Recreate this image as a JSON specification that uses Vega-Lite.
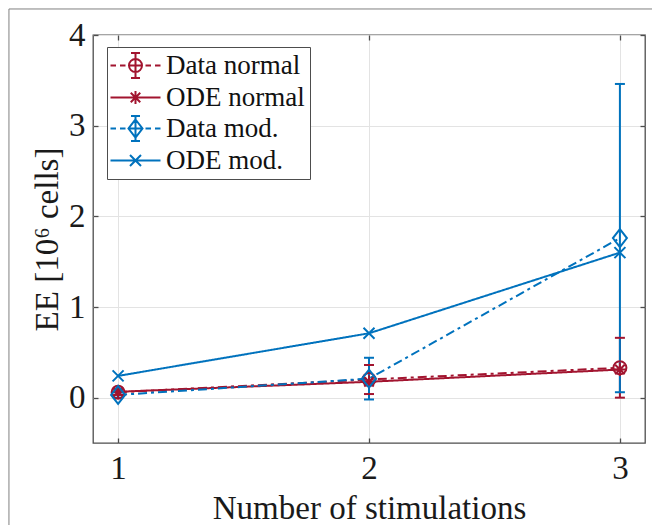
{
  "$schema": "https://vega.github.io/schema/vega-lite/v6.json",
  "width": 552,
  "height": 408,
  "autosize": {"type": "none"},
  "padding": {"left": 93, "top": 35, "right": 7, "bottom": 82},
  "background": "white",
  "config": {
    "font": "Liberation Serif",
    "view": {"stroke": "#4d4d4d", "strokeWidth": 1.3},
    "range": {"category": ["#A2142F", "#A2142F", "#0072BD", "#0072BD"]},
    "axis": {
      "domain": false,
      "tickSize": -5,
      "tickColor": "#4d4d4d",
      "tickWidth": 1.3,
      "gridColor": "#e3e3e3",
      "gridWidth": 1,
      "labelFont": "Liberation Serif",
      "labelFontSize": 33,
      "labelColor": "#1a1a1a",
      "titleFont": "Liberation Serif",
      "titleFontSize": 33,
      "titleFontWeight": "normal",
      "titleColor": "#1a1a1a"
    }
  },
  "datasets": {
    "series": [
      {"s": "Data normal", "x": 1, "y": 0.06, "lo": 0.03, "hi": 0.09},
      {"s": "Data normal", "x": 2, "y": 0.2, "lo": 0.04, "hi": 0.36},
      {"s": "Data normal", "x": 3, "y": 0.33, "lo": 0.0, "hi": 0.66},
      {"s": "ODE normal", "x": 1, "y": 0.065},
      {"s": "ODE normal", "x": 2, "y": 0.175},
      {"s": "ODE normal", "x": 3, "y": 0.31},
      {"s": "Data mod.", "x": 1, "y": 0.03, "lo": 0.0, "hi": 0.06},
      {"s": "Data mod.", "x": 2, "y": 0.21, "lo": -0.02, "hi": 0.44},
      {"s": "Data mod.", "x": 3, "y": 1.76, "lo": 0.06, "hi": 3.46},
      {"s": "ODE mod.", "x": 1, "y": 0.24},
      {"s": "ODE mod.", "x": 2, "y": 0.71},
      {"s": "ODE mod.", "x": 3, "y": 1.6}
    ],
    "frame": [
      {"x1": 0.565, "x2": 0.565, "y1": 4.287, "y2": -1.5},
      {"x1": 0.565, "x2": 3.2, "y1": 4.287, "y2": 4.287}
    ]
  },
  "layer": [
    {
      "data": {"name": "frame"},
      "mark": {"type": "rule", "clip": false, "color": "#808080", "strokeWidth": 1},
      "encoding": {
        "x": {"field": "x1", "type": "quantitative", "scale": {"domain": [0.9, 3.1], "nice": false, "zero": false}, "axis": null},
        "x2": {"field": "x2"},
        "y": {"field": "y1", "type": "quantitative", "scale": {"domain": [-0.5, 4], "nice": false, "zero": false}, "axis": null},
        "y2": {"field": "y2"}
      }
    },
    {
      "data": {"name": "series"},
      "mark": {"type": "line", "strokeWidth": 2},
      "encoding": {
        "x": {
          "field": "x", "type": "quantitative",
          "scale": {"domain": [0.9, 3.1], "nice": false, "zero": false},
          "axis": {"values": [1, 2, 3], "format": "d", "grid": true, "title": "Number of stimulations", "labelBaseline": "alphabetic", "labelPadding": 40, "titleY": 75, "titleBaseline": "alphabetic"}
        },
        "y": {
          "field": "y", "type": "quantitative",
          "scale": {"domain": [-0.5, 4], "nice": false, "zero": false},
          "axis": {"values": [0, 1, 2, 3, 4], "format": "d", "grid": true, "title": "EE [10⁶ cells]", "labelPadding": 13, "titleX": -36, "titleBaseline": "alphabetic"}
        },
        "color": {"field": "s", "type": "nominal", "scale": {"domain": ["Data normal", "ODE normal", "Data mod.", "ODE mod."]}, "legend": null},
        "strokeDash": {
          "field": "s", "type": "nominal",
          "scale": {"domain": ["Data normal", "ODE normal", "Data mod.", "ODE mod."], "range": [[9, 4, 3, 4], [1, 0], [9, 4, 3, 4], [1, 0]]},
          "legend": null
        }
      }
    },
    {
      "data": {"name": "series"},
      "transform": [{"filter": "isValid(datum.lo)"}],
      "mark": {"type": "rule", "strokeWidth": 2},
      "encoding": {
        "x": {
          "field": "x", "type": "quantitative",
          "scale": {"domain": [0.9, 3.1], "nice": false, "zero": false},
          "axis": {"orient": "top", "values": [1, 2, 3], "labels": false, "grid": false, "title": null}
        },
        "y": {
          "field": "lo", "type": "quantitative",
          "scale": {"domain": [-0.5, 4], "nice": false, "zero": false},
          "axis": {"orient": "right", "values": [0, 1, 2, 3, 4], "labels": false, "grid": false, "title": null}
        },
        "y2": {"field": "hi"},
        "color": {"field": "s", "type": "nominal", "scale": {"domain": ["Data normal", "ODE normal", "Data mod.", "ODE mod."]}, "legend": null}
      }
    },
    {
      "data": {"name": "series"},
      "transform": [{"filter": "isValid(datum.lo)"}],
      "mark": {"type": "tick", "orient": "horizontal", "size": 10, "thickness": 2, "opacity": 1},
      "encoding": {
        "x": {"field": "x", "type": "quantitative", "scale": {"domain": [0.9, 3.1], "nice": false, "zero": false}, "axis": null},
        "y": {"field": "lo", "type": "quantitative", "scale": {"domain": [-0.5, 4], "nice": false, "zero": false}, "axis": null},
        "color": {"field": "s", "type": "nominal", "scale": {"domain": ["Data normal", "ODE normal", "Data mod.", "ODE mod."]}, "legend": null}
      }
    },
    {
      "data": {"name": "series"},
      "transform": [{"filter": "isValid(datum.hi)"}],
      "mark": {"type": "tick", "orient": "horizontal", "size": 10, "thickness": 2, "opacity": 1},
      "encoding": {
        "x": {"field": "x", "type": "quantitative", "scale": {"domain": [0.9, 3.1], "nice": false, "zero": false}, "axis": null},
        "y": {"field": "hi", "type": "quantitative", "scale": {"domain": [-0.5, 4], "nice": false, "zero": false}, "axis": null},
        "color": {"field": "s", "type": "nominal", "scale": {"domain": ["Data normal", "ODE normal", "Data mod.", "ODE mod."]}, "legend": null}
      }
    },
    {
      "data": {"name": "series"},
      "mark": {"type": "point", "filled": false, "strokeWidth": 2, "size": 100, "opacity": 1},
      "encoding": {
        "x": {"field": "x", "type": "quantitative", "scale": {"domain": [0.9, 3.1], "nice": false, "zero": false}, "axis": null},
        "y": {"field": "y", "type": "quantitative", "scale": {"domain": [-0.5, 4], "nice": false, "zero": false}, "axis": null},
        "shape": {
          "field": "s", "type": "nominal",
          "scale": {
            "domain": ["Data normal", "ODE normal", "Data mod.", "ODE mod."],
            "range": [
              "M1.3,0A1.3,1.3,0,1,1,-1.3,0A1.3,1.3,0,1,1,1.3,0Z",
              "M-1.3,0H1.3M0,-1.3V1.3M-0.95,-0.95L0.95,0.95M-0.95,0.95L0.95,-0.95",
              "M0,-1.8L1.4,0L0,1.8L-1.4,0Z",
              "M-1.1,-1.1L1.1,1.1M-1.1,1.1L1.1,-1.1"
            ]
          },
          "legend": null
        },
        "color": {"field": "s", "type": "nominal", "scale": {"domain": ["Data normal", "ODE normal", "Data mod.", "ODE mod."]}, "legend": null}
      }
    },
    {
      "data": {"name": "series"},
      "transform": [{"filter": "datum.x > 10"}],
      "mark": {"type": "point", "filled": false, "strokeWidth": 2, "size": 100, "opacity": 1},
      "encoding": {
        "x": {"field": "x", "type": "quantitative", "scale": {"domain": [0.9, 3.1], "nice": false, "zero": false}, "axis": null},
        "y": {"field": "y", "type": "quantitative", "scale": {"domain": [-0.5, 4], "nice": false, "zero": false}, "axis": null},
        "shape": {
          "field": "s", "type": "nominal",
          "scale": {
            "domain": ["Data normal", "ODE normal", "Data mod.", "ODE mod."],
            "range": [
              "M-5,0H-3.9M-3.1,0H-2M-1.3,0H1.3M2,0H3.1M3.9,0H5M1.3,0A1.3,1.3,0,1,1,-1.3,0A1.3,1.3,0,1,1,1.3,0M0,-2.5V2.5M-0.9,-2.5H0.9M-0.9,2.5H0.9",
              "M-5,0H5M0,-1.3V1.3M-0.95,-0.95L0.95,0.95M-0.95,0.95L0.95,-0.95",
              "M-5,0H-3.9M-3.1,0H-2M-1.4,0H1.4M2,0H3.1M3.9,0H5M0,-1.8L1.4,0L0,1.8L-1.4,0ZM0,-2.5V2.5M-0.9,-2.5H0.9M-0.9,2.5H0.9",
              "M-5,0H5M-1.1,-1.1L1.1,1.1M-1.1,1.1L1.1,-1.1"
            ]
          },
          "legend": {"title": null}
        },
        "color": {
          "field": "s", "type": "nominal",
          "scale": {"domain": ["Data normal", "ODE normal", "Data mod.", "ODE mod."]},
          "legend": {
            "title": null,
            "orient": "none",
            "legendX": 14,
            "legendY": 12,
            "padding": 5,
            "strokeColor": "#4d4d4d",
            "fillColor": "white",
            "labelFont": "Liberation Serif",
            "labelFontSize": 27,
            "labelColor": "#111111",
            "labelLimit": 300,
            "rowPadding": 1,
            "symbolSize": 100,
            "symbolOffset": 10,
            "labelOffset": 17,
            "symbolStrokeWidth": 2
          }
        }
      }
    }
  ],
  "resolve": {
    "scale": {"color": "independent", "shape": "independent"},
    "legend": {"color": "independent", "shape": "independent"},
    "axis": {"x": "independent", "y": "independent"}
  }
}
